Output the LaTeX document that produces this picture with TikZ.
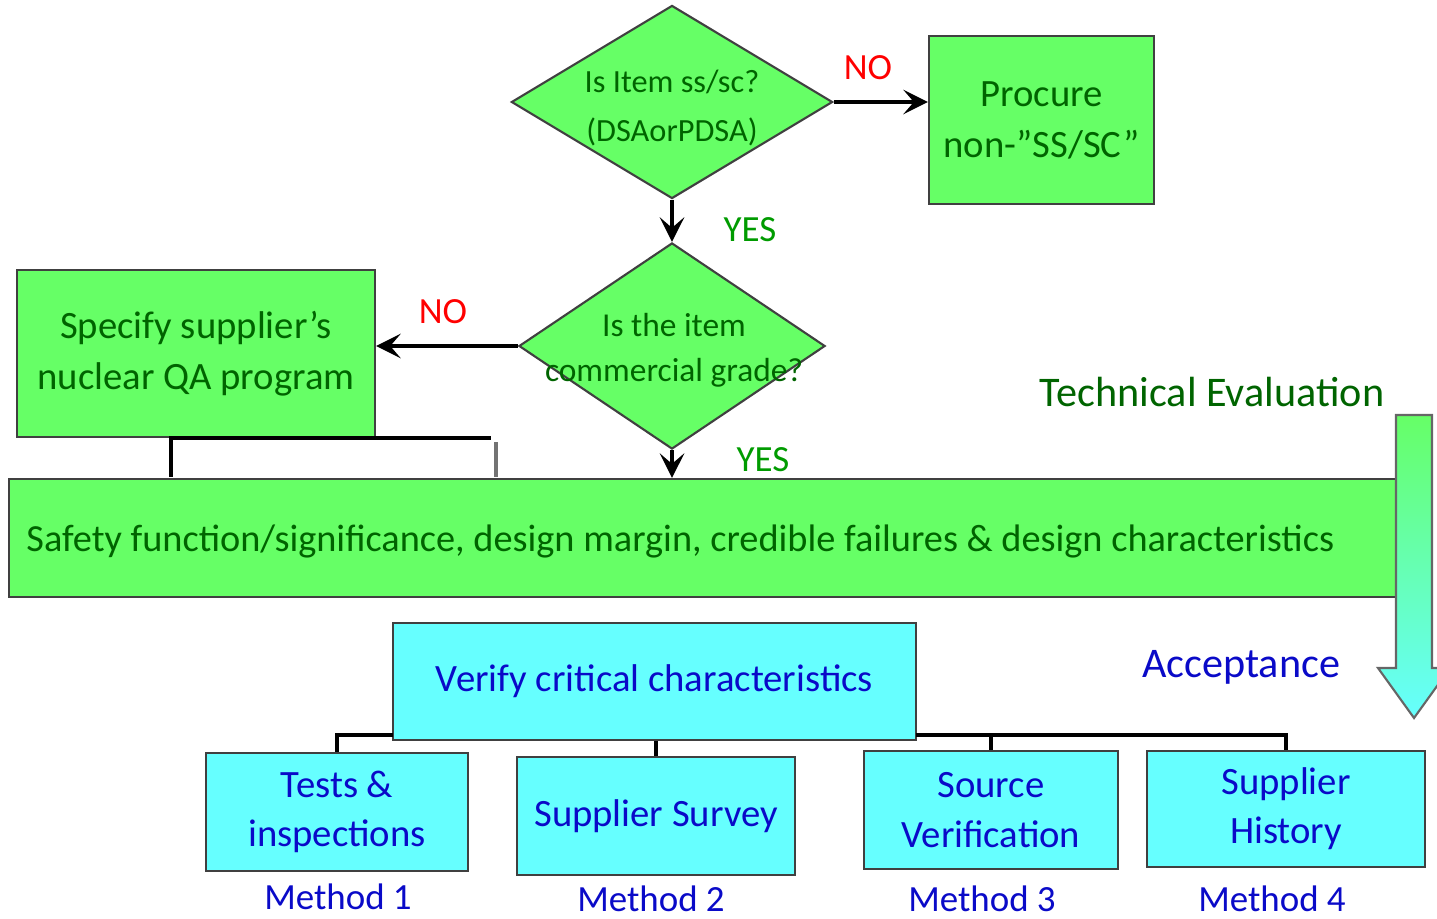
\documentclass[tikz,border=0pt]{standalone}
\usepackage{fontspec}
\setmainfont{Carlito}
\usetikzlibrary{shapes.geometric,arrows.meta}
\definecolor{boxgreen}{RGB}{102,255,102}
\definecolor{boxcyan}{RGB}{102,255,255}
\definecolor{textgreen}{RGB}{0,100,0}
\definecolor{yesgreen}{RGB}{0,155,0}
\definecolor{textblue}{RGB}{10,10,200}

\begin{document}
\begin{tikzpicture}[x=0.01cm,y=-0.01cm]
  \tikzstyle{greenbox}=[draw=black!75, line width=0.6pt, fill=boxgreen, text=textgreen, align=center, inner sep=0pt, font=\fontsize{11}{14.5}\selectfont]
  \tikzstyle{cyanbox}=[draw=black!75, line width=0.6pt, fill=boxcyan, text=textblue, align=center, inner sep=0pt, font=\fontsize{11}{14}\selectfont]
  \tikzstyle{decision}=[draw=black!75, line width=0.6pt, fill=boxgreen, diamond, inner sep=0pt]
  \tikzstyle{qtext}=[text=textgreen, align=center]
  \tikzstyle{answer}=[font=\fontsize{10.5}{12}\selectfont]
  \tikzstyle{method}=[text=textblue, font=\fontsize{10.5}{12}\selectfont]
  \tikzstyle{flow}=[line width=0.9pt, -{Stealth[length=7pt,width=7pt,inset=3pt]}]
  \tikzstyle{tree}=[line width=0.9pt]
  \useasboundingbox (0,0) rectangle (1437,918);

  \node[decision, minimum width=3.21cm, minimum height=1.93cm] (Q1) at (672,102) {};
  \node[qtext, font=\fontsize{9.2}{14}\selectfont] (Q1text) at (672,108) {Is Item ss/sc?\\(DSAorPDSA)};

  \node[greenbox, minimum width=2.25cm, minimum height=1.68cm] (Procure) at (1041.5,120) {Procure\\non-”SS/SC”};

  \node[decision, minimum width=3.06cm, minimum height=2.06cm] (Q2) at (672,346) {};
  \node[qtext, font=\fontsize{9.5}{12.8}\selectfont] (Q2text) at (674,350) {Is the item\\commercial grade?};

  \node[greenbox, minimum width=3.58cm, minimum height=1.67cm] (Specify) at (196,353.5) {Specify supplier’s\\nuclear QA program};

  % blank box under the QA program box
  \fill[white] (171,438) rectangle (496,479);
  \draw[line width=0.9pt] (171,477) -- (171,438) -- (491,438);
  \draw[black!55, line width=0.9pt] (496,442) -- (496,477);

  \node[greenbox, minimum width=13.87cm, minimum height=1.18cm] (Bar) at (702.5,538) {};
  \node[text=textgreen, anchor=west, font=\fontsize{10.9}{12}\selectfont] (BarText) at (14,541) {Safety function/significance, design margin, credible failures \& design characteristics};

  \draw[flow] (Q1.east) -- (Q1.east -| Procure.west);
  \draw[flow] (Q1.south) -- (Q2.north);
  \draw[flow] (Q2.west) -- (Q2.west -| Specify.east);
  \draw[flow] (Q2.south) -- (Bar.north -| Q2.south);

  \node[answer, text=red] (No1) at (868,68) {NO};
  \node[answer, text=yesgreen] (Yes1) at (750,230) {YES};
  \node[answer, text=red] (No2) at (443,312) {NO};
  \node[answer, text=yesgreen] (Yes2) at (763,460) {YES};

  % side arrow
  \draw[black!60, line width=0.6pt, top color=boxgreen, bottom color=boxcyan]
    (1396,415) -- (1432,415) -- (1432,668) -- (1450,668) -- (1414,718) -- (1378,668) -- (1396,668) -- cycle;
  \node[text=textgreen, font=\fontsize{12}{14}\selectfont] (TechEval) at (1212,392) {Technical Evaluation};
  \node[text=textblue, font=\fontsize{12}{14}\selectfont] (Accept) at (1241,667) {Acceptance};

  \node[cyanbox, minimum width=5.23cm, minimum height=1.17cm] (Verify) at (654.5,681.5) {Verify critical characteristics};

  \node[cyanbox, minimum width=2.62cm, minimum height=1.18cm] (Tests) at (337,812) {Tests \&\\inspections};
  \node[cyanbox, minimum width=2.78cm, minimum height=1.18cm] (Survey) at (656,816) {Supplier Survey};
  \node[cyanbox, minimum width=2.54cm, minimum height=1.18cm] (Source) at (991,810) {Source\\Verification};
  \node[cyanbox, minimum width=2.78cm, minimum height=1.16cm] (History) at (1286,809) {Supplier\\History};

  \coordinate (TL) at (393,735);
  \coordinate (TR) at (916,735);
  \draw[tree] (Tests.north) |- (TL);
  \draw[tree] (Verify.south -| Survey.north) -- (Survey.north);
  \draw[tree] (TR) -| (Source.north);
  \draw[tree] (TR) -| (History.north);

  \node[method] (M1) at (338,897) {Method 1};
  \node[method] (M2) at (651,899) {Method 2};
  \node[method] (M3) at (982,899) {Method 3};
  \node[method] (M4) at (1272,899) {Method 4};

\end{tikzpicture}
\end{document}
